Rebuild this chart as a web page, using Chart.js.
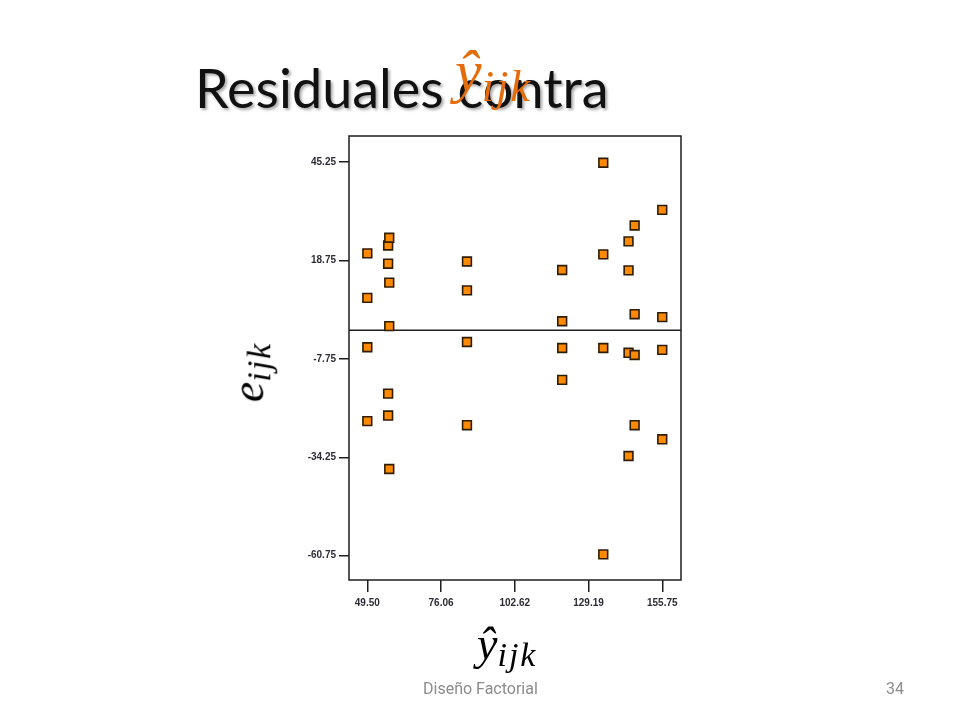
<!DOCTYPE html>
<html>
<head>
<meta charset="utf-8">
<script src="https://cdn.jsdelivr.net/npm/chart.js@4"></script>
<style>
  html, body { margin: 0; padding: 0; background: #fff; }
  #slide { position: relative; width: 960px; height: 720px; overflow: hidden; }
  #chart-box { position: absolute; left: 0; top: 0; width: 960px; height: 720px; }
  .txt { position: absolute; white-space: nowrap; }
  #title { left: 195px; top: 55px; font-family: Lato, "Open Sans", sans-serif; font-size: 54px; color: #111;
           text-shadow: 2px 2px 3px rgba(0,0,0,0.35); }
  #title-math { left: 455px; top: 37px; font-family: "Liberation Serif", "DejaVu Serif", serif; font-style: italic;
                font-size: 60px; color: #e46c0a; }
  #title-math sub, #xlabel sub, #ylabel sub { font-size: 0.74em; vertical-align: -0.22em; letter-spacing: 2px; }
  #ylabel { left: 250px; top: 372px; font-family: "Liberation Serif", "DejaVu Serif", serif; font-style: italic;
            font-size: 46px; color: #000; transform: translate(-50%, -50%) rotate(-90deg); }
  #xlabel { left: 477px; top: 617px; font-family: "Liberation Serif", "DejaVu Serif", serif; font-style: italic;
            font-size: 46px; color: #000; }
  #footer { left: 423px; top: 679px; font-family: Roboto, "Liberation Sans", sans-serif; font-size: 16px; color: #8c8c8c; }
  #page { left: 886px; top: 679px; font-family: Roboto, "Liberation Sans", sans-serif; font-size: 16px; color: #8c8c8c; }
</style>
</head>
<body>
<div id="slide">
  <div id="chart-box"><canvas id="residual-chart"></canvas></div>
  <div class="txt" id="title">Residuales contra</div>
  <div class="txt" id="title-math">ŷ<sub>ijk</sub></div>
  <div class="txt" id="ylabel">e<sub>ijk</sub></div>
  <div class="txt" id="xlabel">ŷ<sub>ijk</sub></div>
  <div class="txt" id="footer">Diseño Factorial</div>
  <div class="txt" id="page">34</div>
</div>
<script>
// fitted values (x) and residuals (y)
const fitted = [
    49.5, 49.5, 49.5, 49.5,
    57.0, 57.0, 57.0, 57.0,
    57.4, 57.4, 57.4, 57.4,
    85.4, 85.4, 85.4, 85.4,
    119.7, 119.7, 119.7, 119.7,
    134.5, 134.5, 134.5, 134.5,
    143.6, 143.6, 143.6, 143.6,
    145.8, 145.8, 145.8, 145.8,
    155.75, 155.75, 155.75, 155.75
];
const residuals = [
    20.7, 8.7, -4.6, -24.5,
    22.8, 17.9, -17.1, -23.0,
    24.9, 12.8, 1.1, -37.4,
    18.5, 10.7, -3.2, -25.6,
    16.2, 2.4, -4.8, -13.4,
    45.1, 20.4, -4.8, -60.4,
    23.9, 16.1, -6.1, -33.9,
    28.2, 4.3, -6.7, -25.6,
    32.4, 3.5, -5.3, -29.4
];
const xTicks = [49.50, 76.06, 102.62, 129.19, 155.75];
const yTicks = [45.25, 18.75, -7.75, -34.25, -60.75];
const zeroLine = 0;

const framePlugin = {
    id: 'frame',
    beforeDatasetsDraw(chart) {
        const { ctx, chartArea: a, scales } = chart;
        const y0 = scales.y.getPixelForValue(zeroLine);
        ctx.save();
        ctx.strokeStyle = '#1e1e1e';
        ctx.lineWidth = 1.5;
        ctx.strokeRect(a.left, a.top, a.right - a.left, a.bottom - a.top);
        ctx.beginPath();
        ctx.moveTo(a.left, y0);
        ctx.lineTo(a.right, y0);
        ctx.stroke();
        ctx.restore();
    }
};

const tickFont = { family: 'Liberation Sans, Arial, sans-serif', size: 10, weight: 'bold' };

new Chart(document.getElementById('residual-chart').getContext('2d'), {
    type: 'scatter',
    data: {
        datasets: [{
            data: fitted.map((x, i) => ({ x, y: residuals[i] })),
            pointStyle: 'rect',
            pointRadius: 6.2,
            pointHoverRadius: 6.2,
            backgroundColor: '#ff8a00',
            borderColor: '#2e1c05',
            borderWidth: 1.6
        }]
    },
    options: {
        responsive: true,
        maintainAspectRatio: false,
        animation: false,
        events: [],
        layout: { padding: { left: 289, top: 136, right: 279, bottom: 100 } },
        plugins: { legend: { display: false }, tooltip: { enabled: false } },
        scales: {
            x: {
                type: 'linear',
                min: 42.9,
                max: 162.5,
                afterBuildTicks: s => { s.ticks = xTicks.map(v => ({ value: v })); },
                afterFit: s => { s.height = 40; },
                border: { display: false },
                grid: { drawOnChartArea: false, drawTicks: true, tickLength: 12, color: '#1e1e1e', lineWidth: 1.5 },
                ticks: { padding: 5, color: '#2c2c36', font: tickFont, maxRotation: 0, callback: v => v.toFixed(2) }
            },
            y: {
                type: 'linear',
                min: -67.3,
                max: 52.3,
                afterBuildTicks: s => { s.ticks = yTicks.map(v => ({ value: v })); },
                afterFit: s => { s.width = 60; },
                border: { display: false },
                grid: { drawOnChartArea: false, drawTicks: true, tickLength: 10, color: '#1e1e1e', lineWidth: 1.5 },
                ticks: { padding: 3, color: '#2c2c36', font: tickFont, callback: v => v.toFixed(2) }
            }
        }
    },
    plugins: [framePlugin]
});
</script>
</body>
</html>
